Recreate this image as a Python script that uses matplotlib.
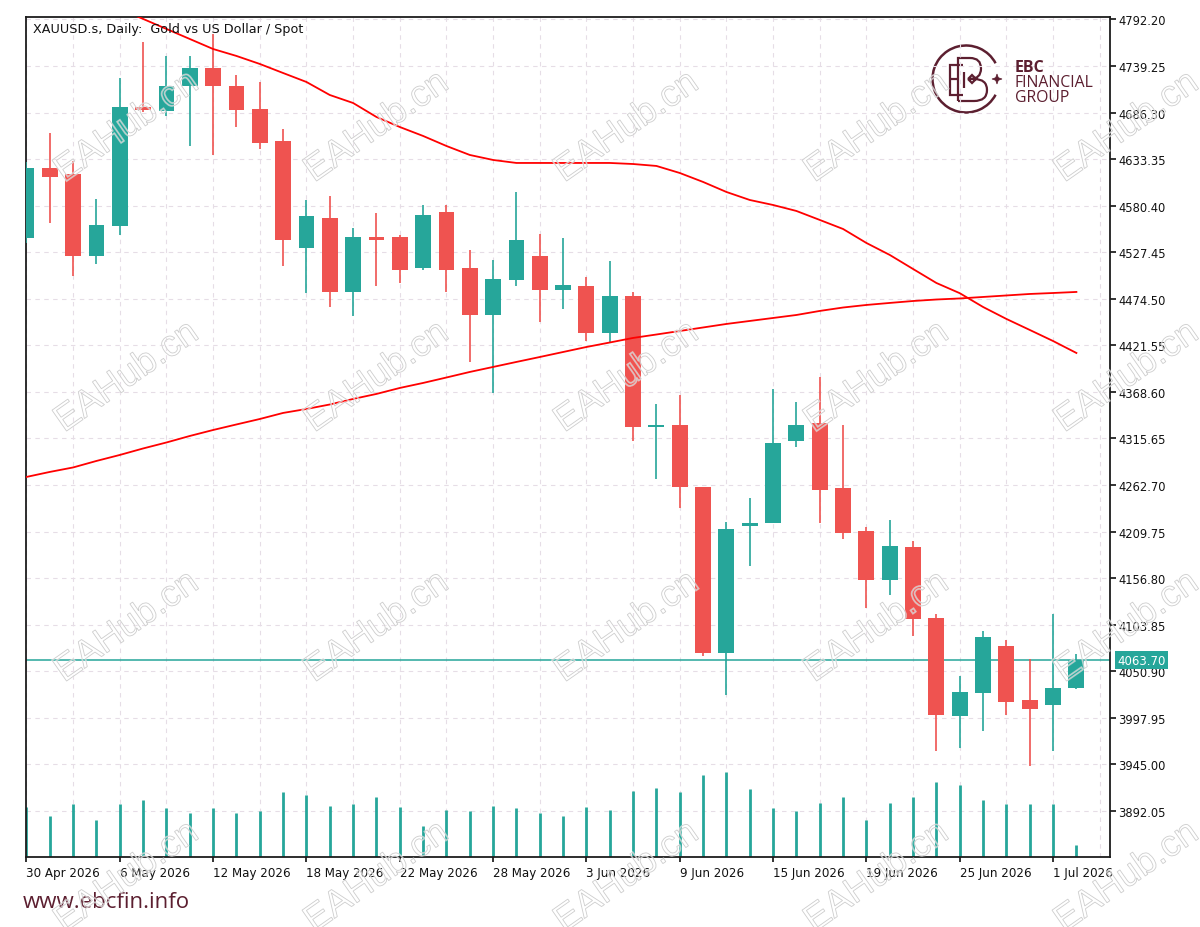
import numpy as np
import matplotlib
matplotlib.use("Agg")
import matplotlib.pyplot as plt
from matplotlib.patches import PathPatch, Arc, Polygon
from matplotlib.path import Path
from matplotlib.textpath import TextPath
from matplotlib.font_manager import FontProperties
from matplotlib.transforms import Affine2D, IdentityTransform

# ---------------- data ----------------
opens = [4544.0, 4623.0, 4616.5, 4523.6, 4557.0, 4692.3, 4687.8, 4716.2, 4737.0, 4716.9,
         4690.7, 4654.3, 4532.3, 4566.4, 4482.6, 4544.6, 4545.2, 4509.2, 4572.9, 4509.2,
         4456.1, 4495.9, 4523.6, 4484.5, 4488.8, 4435.3, 4477.4, 4329.0, 4331.4, 4260.2,
         4071.4, 4216.5, 4219.9, 4312.5, 4333.3, 4259.0, 4210.8, 4155.1, 4192.6, 4111.5,
         3999.7, 4025.9, 4080.0, 4018.6, 4012.9, 4031.6]
highs = [4630.0, 4662.8, 4630.9, 4588.0, 4725.3, 4766.9, 4750.3, 4750.3, 4775.7, 4728.7,
         4720.8, 4667.7, 4586.9, 4591.1, 4554.7, 4571.8, 4546.5, 4581.6, 4581.6, 4530.4,
         4518.7, 4596.3, 4548.2, 4543.7, 4499.0, 4517.2, 4482.6, 4354.9, 4364.8, 4261.0,
         4221.0, 4247.6, 4372.0, 4356.8, 4385.3, 4331.4, 4214.7, 4223.0, 4199.4, 4116.1,
         4045.2, 4096.4, 4086.8, 4064.9, 4116.1, 4070.6]
lows = [4538.0, 4560.4, 4500.8, 4514.1, 4547.1, 4686.6, 4682.8, 4648.0, 4638.4, 4669.6,
        4644.9, 4512.2, 4480.8, 4464.9, 4455.3, 4489.4, 4492.5, 4507.5, 4482.6, 4402.3,
        4367.1, 4489.4, 4447.8, 4462.9, 4426.2, 4425.1, 4312.5, 4269.6, 4236.3, 4068.0,
        4024.3, 4170.3, 4219.0, 4305.7, 4219.5, 4201.4, 4122.5, 4137.7, 4090.7, 3959.9,
        3963.3, 3982.7, 4001.6, 3943.6, 3959.9, 4031.0]
closes = [4623.0, 4613.4, 4523.6, 4558.1, 4692.3, 4689.3, 4716.9, 4737.0, 4716.2, 4689.6,
          4651.7, 4541.1, 4568.4, 4482.6, 4545.2, 4542.0, 4507.6, 4569.8, 4507.6, 4456.1,
          4497.1, 4541.8, 4484.5, 4490.6, 4435.3, 4477.4, 4329.1, 4331.0, 4260.8, 4071.4,
          4212.7, 4218.5, 4310.2, 4331.4, 4257.4, 4208.2, 4155.1, 4193.7, 4110.4, 4001.6,
          4027.0, 4090.2, 4016.3, 4008.0, 4031.9, 4063.7]
volumes = [50000, 41000, 52700, 36700, 52700, 57000, 48400, 44000, 48400, 44000,
           45400, 64400, 61400, 51000, 52700, 60000, 49700, 31000, 46700, 45400,
           51000, 48400, 44000, 41000, 49700, 46700, 65700, 68700, 64400, 81700,
           84700, 67400, 48400, 45400, 54000, 60000, 36700, 54000, 60000, 74400,
           71400, 57000, 52700, 52700, 52700, 12000]
ma_fast = [4849.6, 4838.2, 4826.9, 4815.5, 4804.1, 4792.8, 4781.4, 4770.0, 4758.6, 4750.7,
           4741.6, 4731.3, 4721.1, 4706.3, 4697.2, 4681.3, 4669.9, 4659.7, 4648.3, 4638.1,
           4632.4, 4629.0, 4629.0, 4629.0, 4629.0, 4629.0, 4627.8, 4625.6, 4617.6, 4607.4,
           4596.0, 4586.9, 4581.2, 4574.4, 4564.2, 4553.9, 4538.0, 4524.4, 4508.4, 4492.5,
           4480.9, 4465.2, 4451.6, 4439.1, 4426.5, 4412.9]
ma_slow = [4271.9, 4277.6, 4282.7, 4290.1, 4296.9, 4304.3, 4311.1, 4318.5, 4325.3, 4331.6,
           4337.8, 4344.7, 4349.2, 4354.3, 4360.6, 4366.3, 4373.1, 4378.8, 4385.0, 4391.3,
           4397.0, 4402.7, 4408.3, 4414.0, 4419.7, 4424.8, 4430.0, 4433.9, 4437.9, 4441.9,
           4445.9, 4449.3, 4452.7, 4456.1, 4460.7, 4464.6, 4467.5, 4469.8, 4472.0, 4473.7,
           4474.9, 4476.6, 4478.3, 4480.0, 4481.1, 4482.3]
last_price = 4063.70
date_tick_idx = [0, 4, 8, 12, 16, 20, 24, 28, 32, 36, 40, 44]
date_tick_labels = ["30 Apr 2026", "6 May 2026", "12 May 2026", "18 May 2026", "22 May 2026",
                    "28 May 2026", "3 Jun 2026", "9 Jun 2026", "15 Jun 2026", "19 Jun 2026",
                    "25 Jun 2026", "1 Jul 2026"]
price_ticks = [4792.20, 4739.25, 4686.30, 4633.35, 4580.40, 4527.45, 4474.50, 4421.55,
               4368.60, 4315.65, 4262.70, 4209.75, 4156.80, 4103.85, 4050.90, 3997.95,
               3945.00, 3892.05]
title = "XAUUSD.s, Daily:  Gold vs US Dollar / Spot"

# ---------------- style ----------------
UP = "#26a69a"
DOWN = "#ef5350"
MA_COLOR = "#ff0000"
GRID = "#e6dde6"
MAROON = "#5c1f30"
W, H = 1200, 928

fig = plt.figure(figsize=(W / 100, H / 100), dpi=100)
L, R, T, B = 26, 1110, 18, 857.7
pos = [L / W, 1 - B / H, (R - L) / W, (B - T) / H]
ax2 = fig.add_axes(pos)          # volume pane (drawn underneath)
ax = fig.add_axes(pos, sharex=ax2)  # price pane
ax2.set_zorder(1)
ax.set_zorder(2)
ax.patch.set_visible(False)
ax2.set_axis_off()

o = np.array(opens); c = np.array(closes)
hi = np.array(highs); lo = np.array(lows)
x = np.arange(len(o))
cols = [UP if cc >= oo else DOWN for oo, cc in zip(o, c)]

ax.set_xlim(-0.02, 46.44)
ax.set_ylim(3840.0, 4795.0)

# grid (on the lower pane, so volume bars cover it)
for i in range(0, 47, 2):
    ax2.axvline(i, color=GRID, lw=0.8, ls=(0, (4, 4)), zorder=0)
ax2.hlines(price_ticks, 0, 1, transform=ax.get_yaxis_transform(), colors=GRID,
           lw=0.8, linestyles=(0, (4, 4)), zorder=0)

# volumes
ax2.vlines(x, 0, volumes, colors=UP, lw=2.0, zorder=3)
ax2.set_ylim(0, 839700)

# current price line
ax.axhline(last_price, color=UP, lw=1.1, zorder=2)

# candles
ax.vlines(x, lo, hi, colors=cols, lw=1.2, zorder=3)
mid = (o + c) / 2
bh = np.maximum(np.abs(c - o), 3.0)
ax.bar(x, bh, bottom=mid - bh / 2, width=0.68, color=cols, lw=0, zorder=4)

# moving averages
ax.plot(x, ma_fast, color=MA_COLOR, lw=1.3, zorder=5)
ax.plot(x, ma_slow, color=MA_COLOR, lw=1.3, zorder=5)

ax.set_xlim(-0.02, 46.44)
ax.set_ylim(3840.0, 4795.0)

# axes cosmetics
ax.yaxis.tick_right()
ax.set_yticks(price_ticks)
ax.set_yticklabels([f"{v:.2f}" for v in price_ticks])
ax.set_xticks(date_tick_idx)
ax.set_xticklabels(date_tick_labels, ha="left")
ax.tick_params(axis="y", direction="out", length=4.3, width=1.2, pad=1.7,
               labelsize=8.3, colors="#111111", left=False, right=True)
ax.tick_params(axis="x", direction="out", length=3.6, width=1.2, pad=3.0,
               labelsize=8.6, colors="#111111")
for s in ax.spines.values():
    s.set_color("#1c1c1c")
    s.set_linewidth(1.3)

# price label
ax.text((1117 - L) / (R - L), last_price, f"{last_price:.2f}", transform=ax.get_yaxis_transform(),
        ha="left", va="center", fontsize=8.5, color="white", zorder=10, clip_on=False,
        bbox=dict(boxstyle="square,pad=0.2", fc=UP, ec=UP, lw=0))

# title
fig.text(33 / W, 1 - 29 / H, title, ha="left", va="center", fontsize=9.2, color="#111111")

# footer
fig.text(23 / W, 1 - 908 / H, "www.ebcfin.info", ha="left", va="baseline", fontsize=16,
         color=MAROON, family="Open Sans")

# logo
ID = IdentityTransform()
cx0, cy0 = 966, H - 80
fig.add_artist(Arc((cx0, cy0), 67, 67, theta1=28, theta2=332, lw=1.8, color=MAROON, transform=ID))
star = [(0, 5), (1.3, 1.3), (5, 0), (1.3, -1.3), (0, -5), (-1.3, -1.3), (-5, 0), (-1.3, 1.3)]
fig.add_artist(Polygon([(997 + a, cy0 + b) for a, b in star], closed=True, fc=MAROON, ec=MAROON,
                       lw=0.5, transform=ID))


def P(px, py):
    return (px, H - py)


verts = [P(963, 66), P(950, 66), P(950, 96), P(963, 96),
         P(950, 80), P(957, 80),
         P(958, 102), P(958, 59), P(970, 59), P(981, 59), P(981, 69.5), P(981, 80), P(970, 80),
         P(974, 80), P(987, 80), P(987, 91), P(987, 102), P(974, 102), P(958, 102),
         P(964, 73), P(964, 89),
         P(968, 80), P(972, 76), P(976, 80), P(972, 84), P(968, 80)]
codes = [Path.MOVETO, Path.LINETO, Path.LINETO, Path.LINETO,
         Path.MOVETO, Path.LINETO,
         Path.MOVETO, Path.LINETO, Path.LINETO, Path.CURVE3, Path.CURVE3, Path.CURVE3, Path.CURVE3,
         Path.LINETO, Path.CURVE3, Path.CURVE3, Path.CURVE3, Path.CURVE3, Path.LINETO,
         Path.MOVETO, Path.LINETO,
         Path.MOVETO, Path.LINETO, Path.LINETO, Path.LINETO, Path.LINETO]
fig.add_artist(PathPatch(Path(verts, codes), fc="none", ec=MAROON, lw=1.6, transform=ID))

fig.text(1015 / W, 1 - 72 / H, "EBC", ha="left", va="baseline", fontsize=11.5, weight="bold",
         color=MAROON, family="Open Sans")
fig.text(1015 / W, 1 - 87 / H, "FINANCIAL", ha="left", va="baseline", fontsize=11.3,
         color=MAROON, family="Open Sans")
fig.text(1015 / W, 1 - 102 / H, "GROUP", ha="left", va="baseline", fontsize=11.3,
         color=MAROON, family="Open Sans")

# watermark
tp = TextPath((0, 0), "EAHub.cn", size=37, prop=FontProperties(family="Liberation Sans"))
ext = tp.get_extents()
tcx, tcy = (ext.x0 + ext.x1) / 2, (ext.y0 + ext.y1) / 2
for wy in [125, 375, 625, 875]:
    for wx in [125, 375, 625, 875, 1125]:
        tr = Affine2D().translate(-tcx, -tcy).rotate_deg(35).translate(wx, H - wy)
        pth = tr.transform_path(tp)
        fig.add_artist(PathPatch(pth, fc="none", ec="white", lw=1.4, alpha=0.45, transform=ID, zorder=20))
        fig.add_artist(PathPatch(pth, fc="none", ec="#cdcdcd", lw=0.6, transform=ID, zorder=21))

fig.savefig("out.png", dpi=100)
